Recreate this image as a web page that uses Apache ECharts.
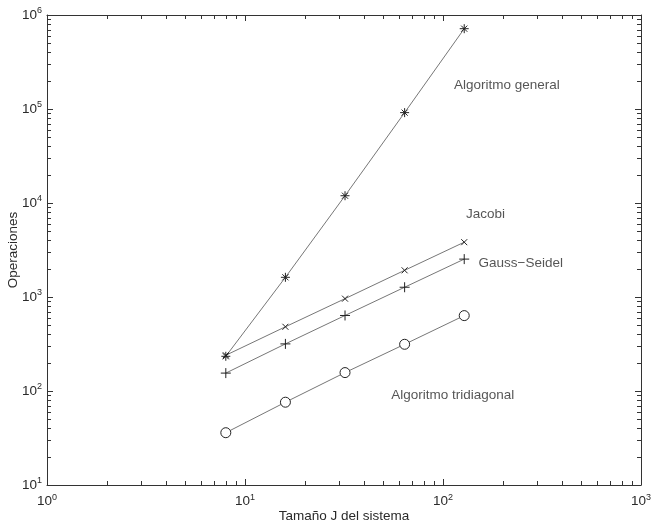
<!DOCTYPE html>
<html>
<head>
<meta charset="utf-8">
<script src="https://cdn.jsdelivr.net/npm/echarts@6/dist/echarts.min.js"></script>
<style>html,body{margin:0;padding:0;background:#fff}#c{width:653px;height:524px}</style>
</head>
<body>
<div id="c"></div>
<script>
// Data
var sizes = [8, 16, 32, 64, 128];
var general = [234, 1620, 11950, 91500, 715000];
var jacobi = [240, 482, 960, 1922, 3830];
var gaussSeidel = [155, 317, 636, 1270, 2530];
var tridiagonal = [36, 76, 157, 314, 634];
var labelNames = ['Algoritmo general', 'Jacobi', 'Gauss\u2212Seidel', 'Algoritmo tridiagonal'];
var labelX = [210, 164, 247, 112];
var labelY = [180000, 7640, 2300, 90];
var xMinor = [2,3,4,5,6,7,8,9,20,30,40,50,60,70,80,90,200,300,400,500,600,700,800,900];
var yMinor = [];
[10, 100, 1000, 10000, 100000].forEach(function (d) { for (var k = 2; k <= 9; k++) yMinor.push(d * k); });

var FONT = 'Liberation Sans, Arial, sans-serif';
var TXT = '#2a2a2a';
var AX = '#333';

function pairs(ys) { return sizes.map(function (x, i) { return [x, ys[i]]; }); }
function powLabel(v) {
  var e = Math.round(Math.log(v) / Math.LN10);
  return '{b|10}{s|' + e + '}';
}
var rich = {
  b: { fontSize: 13.5, fontFamily: FONT, color: TXT },
  s: { fontSize: 9, fontFamily: FONT, color: TXT, padding: [0, 0, 8, 0] }
};

function baseAxis(extra) {
  var a = {
    type: 'log', logBase: 10,
    axisLine: { show: true, lineStyle: { color: AX, width: 1 } },
    axisTick: { show: true, inside: true, length: 6, lineStyle: { color: AX } },
    splitLine: { show: false },
    minorTick: { show: false }
  };
  for (var k in extra) a[k] = extra[k];
  return a;
}

var starPath = 'path://M0,5L10,5M5,0L5,10M1.6,1.6L8.4,8.4M8.4,1.6L1.6,8.4';
var xPath = 'path://M0,0L10,10M10,0L0,10';
var plusPath = 'path://M0,5L10,5M5,0L5,10';
var circlePath = 'path://M10,5A5,5,0,1,1,0,5A5,5,0,1,1,10,5Z';

function lineSeries(name, ys, symbol, size, fill) {
  return {
    name: name, type: 'line', data: pairs(ys),
    symbol: symbol, symbolSize: size,
    lineStyle: { color: '#777', width: 1 },
    itemStyle: { color: fill || '#222', borderColor: '#222', borderWidth: 1 },
    emphasis: { disabled: true },
    showSymbol: true, silent: true, z: 3
  };
}

var chart = echarts.init(document.getElementById('c'), null, { renderer: 'canvas' });
chart.setOption({
  animation: false,
  backgroundColor: '#fff',
  grid: { left: 47, right: 12, top: 15, bottom: 39, containLabel: false, outerBoundsMode: 'none' },
  xAxis: [
    baseAxis({
      min: 1, max: 1000, position: 'bottom',
      name: 'Tama\u00f1o J del sistema', nameLocation: 'middle', nameGap: 24, nameMoveOverlap: false,
      nameTextStyle: { fontSize: 13.5, fontFamily: FONT, color: TXT },
      axisLabel: { show: true, margin: 8, formatter: powLabel, rich: rich }
    }),
    baseAxis({ min: 1, max: 1000, position: 'top', axisLabel: { show: false } })
  ],
  yAxis: [
    baseAxis({
      min: 10, max: 1000000, position: 'left',
      name: 'Operaciones', nameLocation: 'middle', nameGap: 27, nameMoveOverlap: false,
      nameTextStyle: { fontSize: 13.5, fontFamily: FONT, color: TXT },
      axisLabel: { show: true, margin: 5, formatter: powLabel, rich: rich }
    }),
    baseAxis({ min: 10, max: 1000000, position: 'right', axisLabel: { show: false } })
  ],
  series: [
    lineSeries('Algoritmo general', general, starPath, 9),
    lineSeries('Jacobi', jacobi, xPath, 6),
    lineSeries('Gauss-Seidel', gaussSeidel, plusPath, 10),
    lineSeries('Algoritmo tridiagonal', tridiagonal, circlePath, 10, '#fff'),
    {
      type: 'scatter', silent: true, symbolSize: 0, z: 4,
      data: labelNames.map(function (n, i) { return { name: n, value: [labelX[i], labelY[i]] }; }),
      label: { show: true, position: 'inside', formatter: '{b}', fontSize: 13.5, fontFamily: FONT, color: TXT }
    },
    {
      type: 'custom', silent: true, clip: false, z: 5,
      data: xMinor.map(function (v) { return [v, 10]; }),
      renderItem: function (params, api) {
        var v = api.value(0);
        var b = api.coord([v, 10]);
        var t = api.coord([v, 1000000]);
        var st = { stroke: AX, lineWidth: 1 };
        return { type: 'group', children: [
          { type: 'line', shape: { x1: Math.round(b[0]) + 0.5, y1: b[1], x2: Math.round(b[0]) + 0.5, y2: b[1] - 4 }, style: st },
          { type: 'line', shape: { x1: Math.round(t[0]) + 0.5, y1: t[1], x2: Math.round(t[0]) + 0.5, y2: t[1] + 4 }, style: st }
        ] };
      }
    },
    {
      type: 'custom', silent: true, clip: false, z: 5,
      data: yMinor.map(function (v) { return [1, v]; }),
      renderItem: function (params, api) {
        var v = api.value(1);
        var l = api.coord([1, v]);
        var r = api.coord([1000, v]);
        var st = { stroke: AX, lineWidth: 1 };
        return { type: 'group', children: [
          { type: 'line', shape: { x1: l[0], y1: Math.round(l[1]) + 0.5, x2: l[0] + 4, y2: Math.round(l[1]) + 0.5 }, style: st },
          { type: 'line', shape: { x1: r[0], y1: Math.round(r[1]) + 0.5, x2: r[0] - 4, y2: Math.round(r[1]) + 0.5 }, style: st }
        ] };
      }
    }
  ]
});
</script>
</body>
</html>
